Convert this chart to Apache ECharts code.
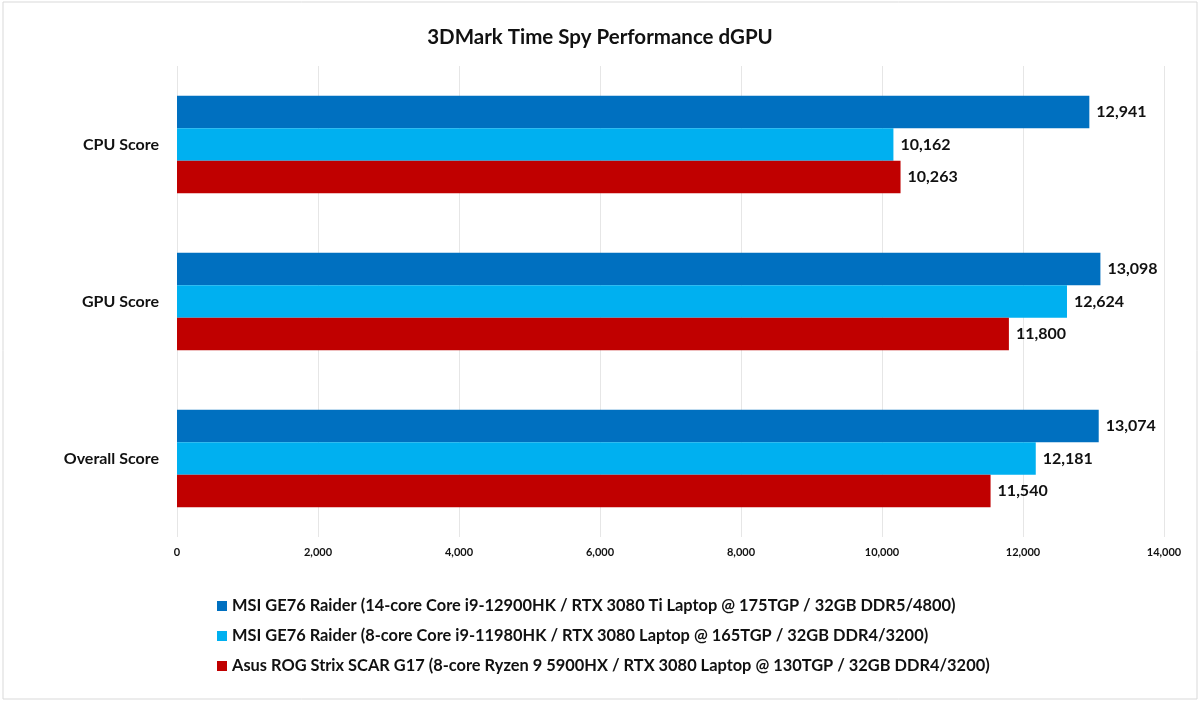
<!DOCTYPE html>
<html><head><meta charset="utf-8">
<style>html,body{margin:0;padding:0;background:#fff}#c{width:1200px;height:701px}</style>
<script src="https://cdn.jsdelivr.net/npm/echarts@6/dist/echarts.min.js"></script>
</head><body><div id="c"></div>
<script>
const categories = ["CPU Score", "GPU Score", "Overall Score"];
const seriesNames = [
  "MSI GE76 Raider (14-core Core i9-12900HK / RTX 3080 Ti Laptop @ 175TGP / 32GB DDR5/4800)",
  "MSI GE76 Raider (8-core Core i9-11980HK / RTX 3080 Laptop @ 165TGP / 32GB DDR4/3200)",
  "Asus ROG Strix SCAR G17 (8-core Ryzen 9 5900HX / RTX 3080 Laptop @ 130TGP / 32GB DDR4/3200)"
];
const ge76_12900 = [12941, 13098, 13074];
const ge76_11980 = [10162, 12624, 12181];
const scar_g17 = [10263, 11800, 11540];
const colors = ["#0070C0", "#00B0F0", "#C00000"];
const FONT = "Lato, 'Open Sans', sans-serif";

const chart = echarts.init(document.getElementById('c'));
const fmt = v => v.toLocaleString('en-US');
const data = [ge76_12900, ge76_11980, scar_g17];
chart.setOption({
  animation: false,
  title: {
    text: "3DMark Time Spy Performance dGPU",
    left: 'center', top: 22,
    textStyle: {fontFamily: FONT, fontWeight: 'bold', fontSize: 20.5, color: '#111'}
  },
  graphic: [{type: 'rect', shape: {x: 3, y: 2, width: 1194, height: 697},
    style: {fill: 'none', stroke: '#d9d9d9', lineWidth: 1}, silent: true}],
  legend: {
    orient: 'vertical', left: 212, top: 593, itemGap: 14,
    itemWidth: 10, itemHeight: 10, icon: 'rect',
    textStyle: {fontFamily: FONT, fontWeight: 'bold', fontSize: 16.4, color: '#111'},
    data: seriesNames
  },
  grid: {left: 177, right: 36, top: 66, bottom: 164, containLabel: false},
  xAxis: {
    type: 'value', min: 0, max: 14000, interval: 2000,
    axisLine: {show: false}, axisTick: {show: false},
    splitLine: {lineStyle: {color: '#e6e6e6', width: 1}},
    axisLabel: {formatter: fmt, fontFamily: FONT, fontWeight: 'bold', fontSize: 11, color: '#111', margin: 10}
  },
  yAxis: {
    type: 'category', data: categories, inverse: true,
    axisLine: {show: false}, axisTick: {show: false},
    axisLabel: {fontFamily: FONT, fontWeight: 'bold', fontSize: 16, color: '#111', margin: 18}
  },
  series: seriesNames.map((n, i) => ({
    name: n, type: 'bar', data: data[i],
    itemStyle: {color: colors[i]},
    barGap: '0%', barCategoryGap: '38%',
    label: {show: true, position: 'right', distance: 7, formatter: p => fmt(p.value),
      fontFamily: FONT, fontWeight: 'bold', fontSize: 16, color: '#111'}
  }))
});
</script></body></html>
